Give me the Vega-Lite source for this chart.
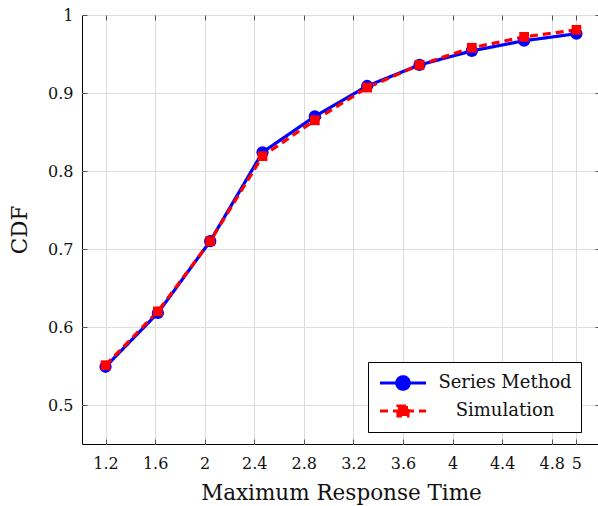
{
  "$schema": "https://vega.github.io/schema/vega-lite/v6.json",
  "width": 518,
  "height": 429,
  "autosize": "none",
  "padding": {"left": 82, "top": 15, "right": 0, "bottom": 62},
  "config": {
    "font": "DejaVu Serif",
    "view": {"stroke": "#000000", "strokeWidth": 1},
    "axis": {
      "domain": false,
      "grid": true,
      "gridColor": "#dddddd",
      "gridWidth": 1,
      "tickColor": "#555555",
      "tickSize": -5,
      "tickWidth": 1,
      "labelFont": "DejaVu Serif",
      "labelFontSize": 16,
      "labelColor": "#111111",
      "labelOverlap": false,
      "titleFont": "DejaVu Serif",
      "titleFontSize": 21.5,
      "titleFontWeight": "normal",
      "titleColor": "#111111"
    }
  },
  "data": {
    "values": [
      {"t": 1.2, "cdf": 0.549, "series": "Series Method"},
      {"t": 1.6222, "cdf": 0.618, "series": "Series Method"},
      {"t": 2.0444, "cdf": 0.710, "series": "Series Method"},
      {"t": 2.4667, "cdf": 0.824, "series": "Series Method"},
      {"t": 2.8889, "cdf": 0.870, "series": "Series Method"},
      {"t": 3.3111, "cdf": 0.909, "series": "Series Method"},
      {"t": 3.7333, "cdf": 0.936, "series": "Series Method"},
      {"t": 4.1556, "cdf": 0.954, "series": "Series Method"},
      {"t": 4.5778, "cdf": 0.967, "series": "Series Method"},
      {"t": 5.0, "cdf": 0.976, "series": "Series Method"},
      {"t": 1.2, "cdf": 0.551, "series": "Simulation"},
      {"t": 1.6222, "cdf": 0.620, "series": "Simulation"},
      {"t": 2.0444, "cdf": 0.710, "series": "Simulation"},
      {"t": 2.4667, "cdf": 0.819, "series": "Simulation"},
      {"t": 2.8889, "cdf": 0.865, "series": "Simulation"},
      {"t": 3.3111, "cdf": 0.907, "series": "Simulation"},
      {"t": 3.7333, "cdf": 0.936, "series": "Simulation"},
      {"t": 4.1556, "cdf": 0.958, "series": "Simulation"},
      {"t": 4.5778, "cdf": 0.972, "series": "Simulation"},
      {"t": 5.0, "cdf": 0.981, "series": "Simulation"}
    ]
  },
  "resolve": {"axis": {"x": "independent", "y": "independent"}},
  "layer": [
    {
      "mark": {"type": "line", "strokeWidth": 3.2},
      "encoding": {
        "x": {
          "field": "t", "type": "quantitative",
          "scale": {"domain": [1.01, 5.19], "nice": false, "zero": false},
          "axis": {"orient": "bottom", "values": [1.2, 1.6, 2, 2.4, 2.8, 3.2, 3.6, 4, 4.4, 4.8, 5], "format": "~g", "labelPadding": 16, "title": "Maximum Response Time", "titlePadding": 11, "labelFlush": false}
        },
        "y": {
          "field": "cdf", "type": "quantitative",
          "scale": {"domain": [0.45, 1.0], "nice": false, "zero": false},
          "axis": {"orient": "left", "values": [0.5, 0.6, 0.7, 0.8, 0.9, 1], "format": "~g", "labelPadding": 14, "title": "CDF", "titlePadding": 16, "labelFlush": false}
        },
        "stroke": {
          "field": "series", "type": "nominal",
          "scale": {"domain": ["Series Method", "Simulation"], "range": ["#0000ff", "#ff0000"]},
          "legend": {
            "title": null,
            "orient": "none",
            "legendX": 286,
            "legendY": 347,
            "strokeColor": "#000000",
            "fillColor": "#ffffff",
            "padding": 9,
            "rowPadding": 3,
            "labelFont": "DejaVu Serif",
            "labelFontSize": 18,
            "labelColor": "#111111",
            "labelAlign": "center",
            "labelOffset": 104,
            "symbolSize": 400,
            "symbolStrokeWidth": 3.2,
            "symbolType": "M-0.9,0L3.7,0",
            "encode": {
              "symbols": {
                "update": {
                  "shape": {"signal": "datum.value === 'Series Method' ? 'M-0.9,0L3.7,0M2.02,0A0.62,0.62 0 1,1 0.78,0A0.62,0.62 0 1,1 2.02,0Z' : 'M-0.9,0L3.7,0M0.9,-0.5L1.9,-0.5L1.9,0.5L0.9,0.5Z'"},
                  "strokeDash": {"signal": "datum.value === 'Series Method' ? [1,0] : [8,5]"},
                  "fill": {"signal": "datum.value === 'Series Method' ? '#0000ff' : '#ff0000'"},
                  "opacity": {"value": 1}
                }
              }
            }
          }
        },
        "strokeDash": {
          "field": "series", "type": "nominal",
          "scale": {"domain": ["Series Method", "Simulation"], "range": [[1, 0], [8, 5]]},
          "legend": null
        }
      }
    },
    {
      "transform": [{"filter": "datum.series === 'Series Method'"}],
      "mark": {"type": "point", "shape": "circle", "filled": true, "opacity": 1, "color": "#0000ff", "size": 150},
      "encoding": {
        "x": {
          "field": "t", "type": "quantitative",
          "axis": {"orient": "top", "values": [1.2, 1.6, 2, 2.4, 2.8, 3.2, 3.6, 4, 4.4, 4.8, 5], "labels": false, "title": null, "grid": false}
        },
        "y": {
          "field": "cdf", "type": "quantitative",
          "axis": {"orient": "right", "values": [0.5, 0.6, 0.7, 0.8, 0.9, 1], "labels": false, "title": null, "grid": false}
        }
      }
    },
    {
      "transform": [{"filter": "datum.series === 'Simulation'"}],
      "mark": {"type": "point", "shape": "square", "filled": true, "opacity": 1, "color": "#ff0000", "size": 95},
      "encoding": {
        "x": {"field": "t", "type": "quantitative", "axis": null},
        "y": {"field": "cdf", "type": "quantitative", "axis": null}
      }
    }
  ]
}
